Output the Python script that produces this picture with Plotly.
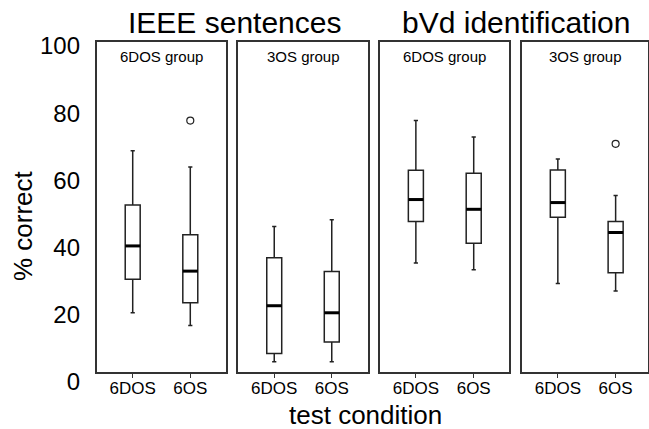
import plotly.graph_objects as go

# ---------------- data ----------------
conditions = ["6DOS", "6OS"]
panel_titles = ["6DOS group", "3OS group", "6DOS group", "3OS group"]
test_titles = ["IEEE sentences", "bVd identification"]

# per panel: [6DOS, 6OS]
lower_whisker = [[20.6, 16.8], [6.0, 6.0], [35.4, 33.4], [29.3, 27.1]]
q1_values     = [[30.6, 23.6], [8.5, 11.9], [47.8, 41.3], [49.0, 32.5]]
medians       = [[40.5, 33.0], [22.7, 20.6], [54.3, 51.4], [53.4, 44.5]]
q3_values     = [[52.7, 43.8], [37.0, 32.9], [63.0, 62.1], [63.1, 47.8]]
upper_whisker = [[68.8, 64.0], [46.3, 48.3], [77.8, 72.9], [66.4, 55.5]]
# outliers: (panel index, condition index, value)
outlier_panel = [0, 3]
outlier_cond = [1, 1]
outlier_value = [77.8, 70.9]

y_ticks = [0, 20, 40, 60, 80, 100]

# ---------------- layout helpers ----------------
W, H = 649, 429
def px_x(p):
    return p / W
def px_y(p):
    return 1 - p / H

panel_px = [(97, 226), (238, 368), (380, 509), (522, 648)]
panel_ranges = [[0.38, 2.62], [0.37, 2.63], [0.38, 2.61], [0.38, 2.56]]
panel_top, panel_bottom = 42, 372
label_top, label_bottom = 46, 382
y_range = [(label_bottom - panel_bottom) / 3.36, (label_bottom - panel_top) / 3.36]

box_w = 0.26
frame_col = "#333333"
font_fam = "Liberation Sans, Arial, sans-serif"

fig = go.Figure()
positions = [1, 2]
for i in range(4):
    ax = "" if i == 0 else str(i + 1)
    fig.add_trace(go.Box(
        x=positions,
        q1=q1_values[i], median=medians[i], q3=q3_values[i],
        lowerfence=lower_whisker[i], upperfence=upper_whisker[i],
        width=box_w, whiskerwidth=0.28,
        fillcolor="white",
        line=dict(color="#222222", width=1.5),
        boxpoints=False, hoverinfo="skip", showlegend=False,
        xaxis="x" + ax, yaxis="y" + ax,
    ))
    # thick median bars
    mx, my = [], []
    for j, p in enumerate(positions):
        mx += [p - box_w / 2, p + box_w / 2, None]
        my += [medians[i][j], medians[i][j], None]
    fig.add_trace(go.Scatter(
        x=mx, y=my, mode="lines",
        line=dict(color="black", width=3),
        hoverinfo="skip", showlegend=False,
        xaxis="x" + ax, yaxis="y" + ax,
    ))

for k in range(len(outlier_value)):
    i = outlier_panel[k]
    ax = "" if i == 0 else str(i + 1)
    fig.add_trace(go.Scatter(
        x=[positions[outlier_cond[k]]], y=[outlier_value[k]], mode="markers",
        marker=dict(symbol="circle-open", size=7, color="#222222", line=dict(width=1.2)),
        hoverinfo="skip", showlegend=False,
        xaxis="x" + ax, yaxis="y" + ax,
    ))

# invisible trace carrying the y tick-label axis
fig.add_trace(go.Scatter(
    x=[1], y=[50], mode="markers", marker=dict(opacity=0),
    hoverinfo="skip", showlegend=False, xaxis="x", yaxis="y5",
))

layout = dict(
    width=W, height=H,
    margin=dict(l=0, r=0, t=0, b=0, pad=0, autoexpand=False),
    paper_bgcolor="white", plot_bgcolor="rgba(0,0,0,0)",
    font=dict(family=font_fam, color="black"),
    showlegend=False,
)
for i in range(4):
    ax = "" if i == 0 else str(i + 1)
    x0, x1 = panel_px[i]
    layout["xaxis" + ax] = dict(
        domain=[px_x(x0), px_x(x1)], range=panel_ranges[i],
        anchor="y" + ax, automargin=False,
        tickmode="array", tickvals=positions, ticktext=conditions,
        ticks="outside", ticklen=4, tickwidth=1.4, tickcolor=frame_col,
        ticklabelstandoff=-4,
        tickfont=dict(size=17, family=font_fam, color="black"),
        showline=True, linecolor=frame_col, linewidth=1.5, mirror=True,
        showgrid=False, zeroline=False, fixedrange=True,
    )
    layout["yaxis" + ax] = dict(
        domain=[px_y(panel_bottom), px_y(panel_top)], range=y_range,
        anchor="x" + ax, automargin=False,
        showticklabels=False, ticks="",
        showline=True, linecolor=frame_col, linewidth=1.5, mirror=True,
        showgrid=False, zeroline=False, fixedrange=True,
    )
layout["yaxis5"] = dict(
    domain=[px_y(label_bottom), px_y(label_top)], range=[0, 100],
    anchor="free", position=px_x(80), automargin=False,
    tickmode="array", tickvals=y_ticks, ticktext=[str(v) for v in y_ticks],
    ticks="", showline=False, showgrid=False, zeroline=False,
    tickfont=dict(size=24, family=font_fam, color="black"),
    fixedrange=True,
)

annotations = []
# test titles, centered over pairs of panels
for t, (a, b) in zip(test_titles, [(0, 1), (2, 3)]):
    cx = (panel_px[a][0] + panel_px[b][1]) / 2 + 2
    annotations.append(dict(
        text=t, x=px_x(cx), y=px_y(23), xref="paper", yref="paper",
        xanchor="center", yanchor="middle", showarrow=False,
        font=dict(size=30, family=font_fam, color="black"),
    ))
for i in range(4):
    cx = (panel_px[i][0] + panel_px[i][1]) / 2
    annotations.append(dict(
        text=panel_titles[i], x=px_x(cx), y=px_y(56), xref="paper", yref="paper",
        xanchor="center", yanchor="middle", showarrow=False,
        font=dict(size=15, family=font_fam, color="black"),
    ))
annotations.append(dict(
    text="test condition", x=px_x(366), y=px_y(415), xref="paper", yref="paper",
    xanchor="center", yanchor="middle", showarrow=False,
    font=dict(size=26, family=font_fam, color="black"),
))
annotations.append(dict(
    text="% correct", x=px_x(23), y=px_y(226), xref="paper", yref="paper",
    xanchor="center", yanchor="middle", showarrow=False, textangle=-90,
    font=dict(size=26, family=font_fam, color="black"),
))
layout["annotations"] = annotations

fig.update_layout(**layout)
fig.write_html("out.html", config={"displayModeBar": False},
               post_script="document.body.style.margin='0';")
